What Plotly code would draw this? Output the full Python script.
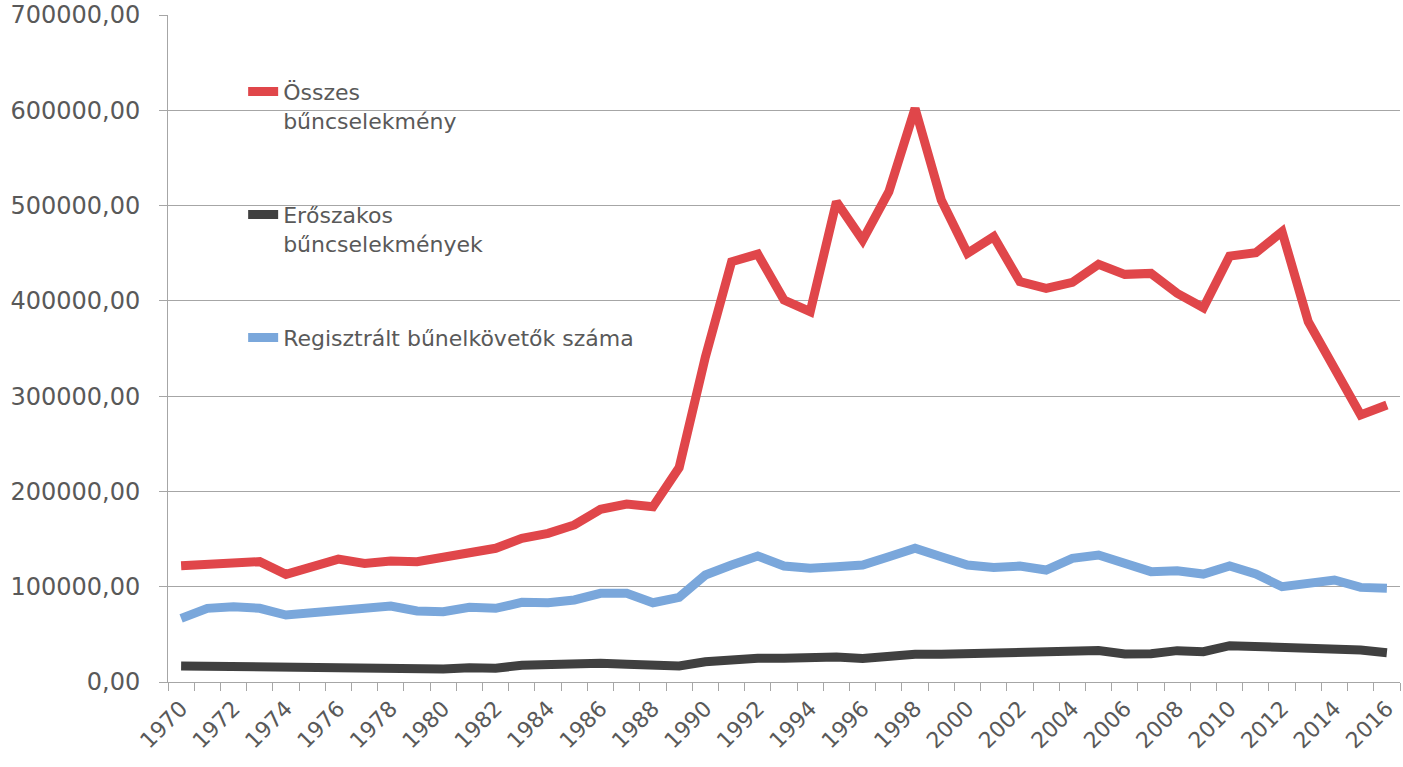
import plotly.graph_objects as go

years = list(range(1970, 2017))

osszes = [122100, 122800, 125600, 126300, 113000, 121000, 129000, 124500, 127000, 126300,
          131500, 135700, 140300, 150800, 156000, 164800, 181200, 186800, 184000, 225000,
          341000, 441000, 449000, 400900, 388600, 504000, 463800, 514500, 602000, 505800,
          449900, 467400, 420100, 413100, 419400, 438300, 427800, 428800, 407900, 392800,
          447000, 450500, 472600, 378100, 330900, 280200, 290700]

eroszakos = [16800, 16500, 15000, 14000, 13300, 14000, 15000, 14000, 13300, 13300,
             13600, 15000, 14500, 17500, 18500, 18000, 19600, 18500, 16800, 16800,
             21300, 23800, 24800, 24800, 26600, 26300, 24800, 27600, 29000, 29000,
             29700, 31100, 31800, 31800, 33600, 33000, 29400, 29700, 32900, 31800,
             38100, 37000, 37000, 36000, 36000, 33600, 30800]

regisztralt = [66800, 77300, 79000, 77300, 70300, 72700, 77300, 79000, 79800, 74500,
               73800, 78400, 77300, 83600, 83300, 86100, 93100, 93100, 83200, 88900,
               112300, 122800, 132200, 121700, 119300, 121000, 122800, 131500, 140300, 131500,
               122800, 120300, 121700, 117500, 129800, 133300, 124500, 115800, 116800, 113300,
               121700, 113300, 100000, 104200, 107000, 99300, 98300]

names = ["Összes<br>bűncselekmény", "Erőszakos<br>bűncselekmények", "Regisztrált bűnelkövetők száma"]
colors = ["#E0464A", "#404040", "#7AA7DB"]
tick_years = list(range(1970, 2017, 2))

FONT = "DejaVu Sans"
GRAY = "#595959"
GRID = "#A6A6A6"

fig = go.Figure()
for ys, nm, col, lg in zip([osszes, eroszakos, regisztralt], names, colors,
                           ["legend", "legend2", "legend3"]):
    fig.add_trace(go.Scatter(x=years, y=ys, mode="lines", name=nm, showlegend=True,
                             line=dict(color=col, width=9), legend=lg))

leg_common = dict(bgcolor="rgba(0,0,0,0)", font=dict(family=FONT, size=22, color=GRAY),
                  xanchor="left", yanchor="top", valign="top", itemwidth=30)
top = 0.9165
step = 123 / 667
lx = 0.061
fig.update_layout(
    width=1403, height=767,
    margin=dict(l=168, r=3, t=15, b=85),
    paper_bgcolor="white", plot_bgcolor="white",
    separators=", ",
    showlegend=True,
    font=dict(family=FONT, color=GRAY),
    legend=dict(x=lx, y=top, **leg_common),
    legend2=dict(x=lx, y=top - step, **leg_common),
    legend3=dict(x=lx, y=top - 2 * step, **leg_common),
    xaxis=dict(range=[1969.5, 2016.5], tickvals=tick_years, ticktext=[str(y) for y in tick_years],
               tickangle=-45, ticks="", showgrid=False, showline=True, linecolor=GRID, linewidth=1,
               tickfont=dict(family=FONT, size=22, color=GRAY), automargin=False,
               ticklabelstandoff=4,
               minor=dict(tickvals=[y - 0.5 for y in years] + [2016.5], ticks="outside",
                          ticklen=8, tickcolor=GRID, tickwidth=1, showgrid=False),
               zeroline=False),
    yaxis=dict(range=[0, 700000], dtick=100000, tickformat=".2f", showgrid=True,
               gridcolor=GRID, gridwidth=1, showline=True, linecolor=GRID, linewidth=1,
               ticks="outside", ticklen=8, tickcolor=GRID, automargin=False,
               ticklabelstandoff=14,
               tickfont=dict(family=FONT, size=24, color=GRAY), zeroline=False),
)

fig.write_html("out.html", config={"displayModeBar": False},
               post_script="document.body.style.margin='0';document.body.style.overflow='hidden';")
